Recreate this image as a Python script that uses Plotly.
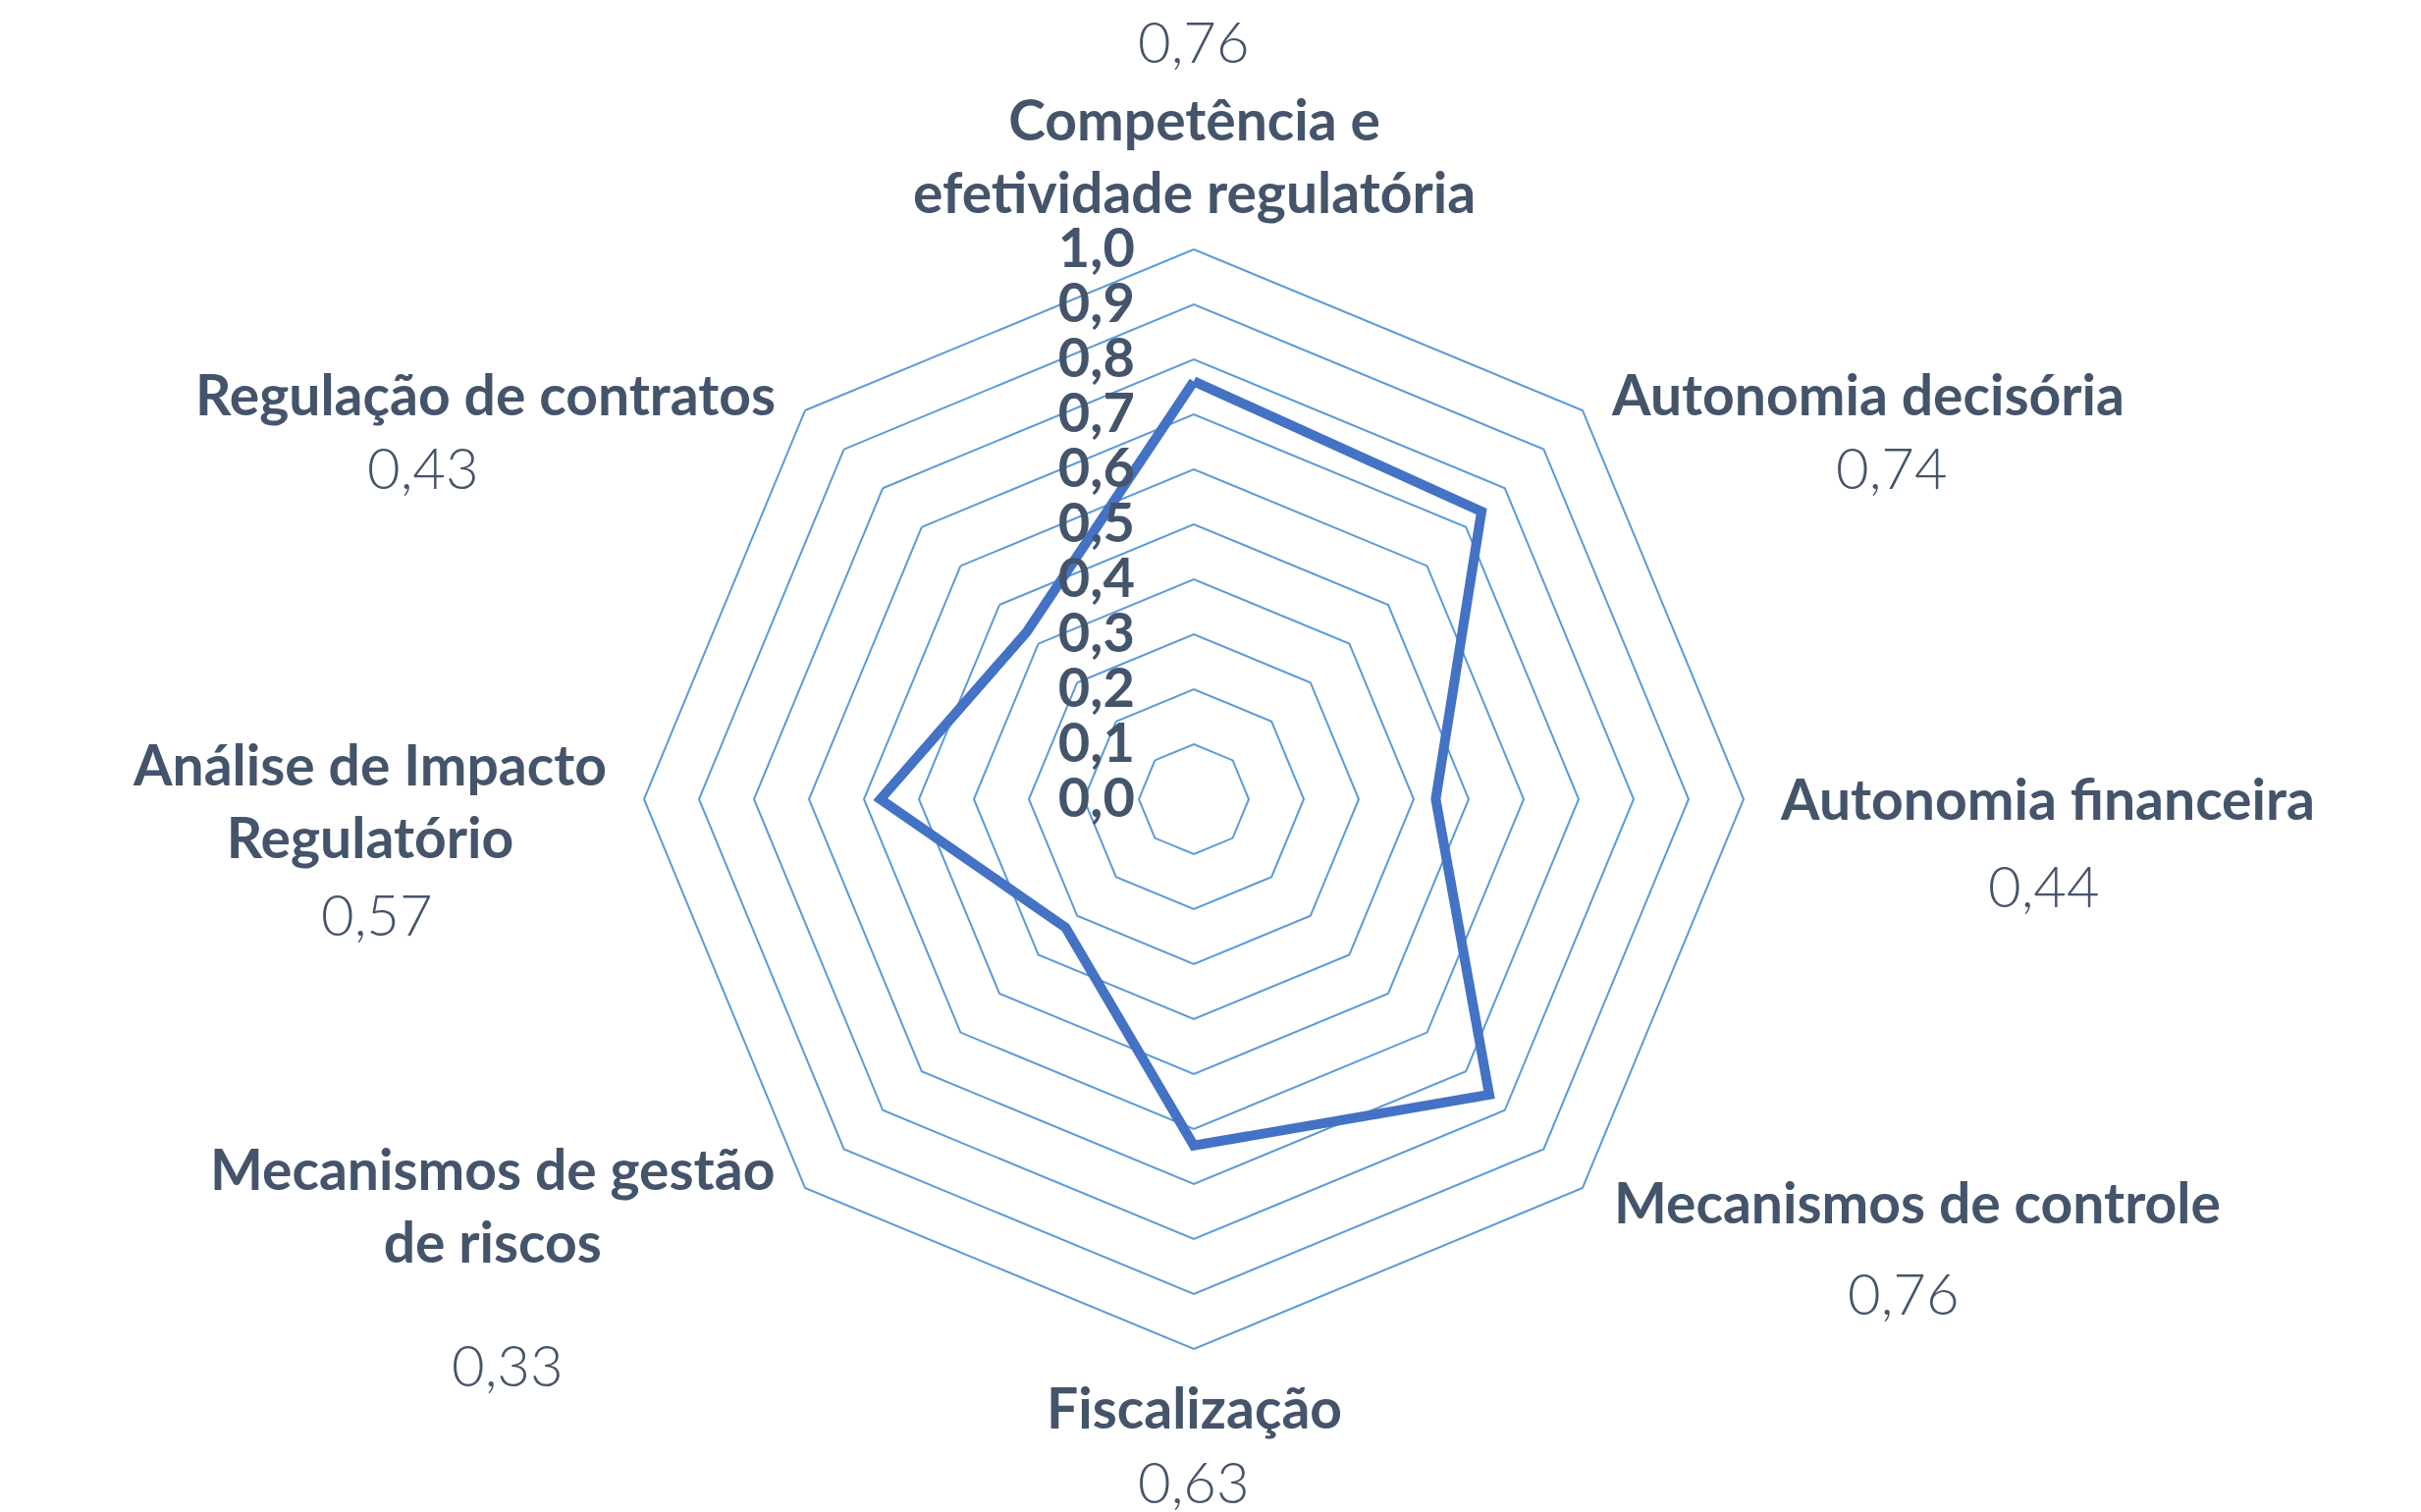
import plotly.graph_objects as go

categories = [
    "Competência e efetividade regulatória",
    "Autonomia decisória",
    "Autonomia financeira",
    "Mecanismos de controle",
    "Fiscalização",
    "Mecanismos de gestão de riscos",
    "Análise de Impacto Regulatório",
    "Regulação de contratos",
]
# label text as displayed (with line breaks)
category_labels = [
    "Competência e<br>efetividade regulatória",
    "Autonomia decisória",
    "Autonomia financeira",
    "Mecanismos de controle",
    "Fiscalização",
    "Mecanismos de gestão<br>de riscos",
    "Análise de Impacto<br>Regulatório",
    "Regulação de contratos",
]
values = [0.76, 0.74, 0.44, 0.76, 0.63, 0.33, 0.57, 0.43]
radial_ticks = [0.0, 0.1, 0.2, 0.3, 0.4, 0.5, 0.6, 0.7, 0.8, 0.9, 1.0]

# label placement (pixels in the 2466x1540 page): category label centre, value label centre
label_pos = [(1208, 150), (1894, 393), (2077, 805), (1945, 1216),
             (1208, 1425), (494, 1219), (368, 807), (486, 393)]
value_pos = [(1208, 34), (1919, 467), (2074, 893), (1931, 1308),
             (1208, 1500), (509, 1381), (376, 922), (423, 467)]

TEXT = "#44546A"
GRID = "#5B9BD5"
LINE = "#4472C4"
FONT = "Lato, 'Open Sans', sans-serif"

W, H = 2466, 1540
R = 560
cx, cy = 1208, 806


def fmt(v):
    return f"{v:.2f}".replace(".", ",")


fig = go.Figure()
fig.add_trace(go.Scatterpolar(
    r=values + values[:1],
    theta=categories + categories[:1],
    mode="lines",
    line=dict(color=LINE, width=10),
    hoverinfo="skip",
))

annotations = []
for lab, v, (lx, ly), (vx, vy) in zip(category_labels, values, label_pos, value_pos):
    annotations.append(dict(
        text=f"<b>{lab}</b>", x=lx / W, y=1 - ly / H, xref="paper", yref="paper",
        xanchor="center", yanchor="middle", align="center", showarrow=False,
        font=dict(family=FONT, size=57, color=TEXT),
    ))
    annotations.append(dict(
        text=fmt(v), x=vx / W, y=1 - vy / H, xref="paper", yref="paper",
        xanchor="center", yanchor="middle", align="center", showarrow=False,
        font=dict(family=FONT, size=58, color=TEXT, weight=300),
    ))

fig.update_layout(
    width=W, height=H,
    margin=dict(l=0, r=0, t=0, b=0),
    paper_bgcolor="white",
    plot_bgcolor="white",
    showlegend=False,
    separators=",.",
    font=dict(family=FONT, color=TEXT, size=44),
    annotations=annotations,
    polar=dict(
        domain=dict(x=[(cx - R) / W, (cx + R) / W], y=[(H - cy - R) / H, (H - cy + R) / H]),
        bgcolor="white",
        gridshape="linear",
        angularaxis=dict(
            direction="clockwise",
            rotation=90,
            showticklabels=False,
            showgrid=False,
            showline=True,
            linecolor=GRID,
            linewidth=2,
            ticks="",
        ),
        radialaxis=dict(
            range=[0, 1],
            tickvals=radial_ticks,
            tickformat=".1f",
            angle=90,
            tickangle=90,
            side="counterclockwise",
            showline=False,
            ticks="outside",
            ticklen=40,
            tickcolor="rgba(0,0,0,0)",
            gridcolor=GRID,
            gridwidth=2,
            tickfont=dict(size=56, color=TEXT, family=FONT, weight="bold"),
        ),
    ),
)

fig.write_html("out.html")
